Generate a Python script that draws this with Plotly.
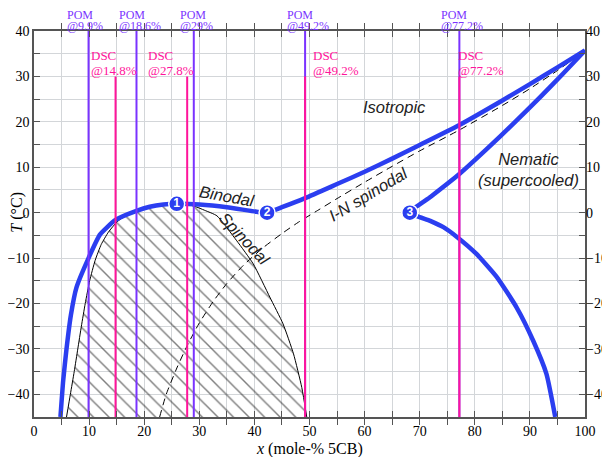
import plotly.graph_objects as go

# ---------------- data ----------------
binodal_x = [4.8, 5.3, 5.9, 6.7, 7.7, 9.9, 12.0, 14.8, 18.6, 21.0, 23.5, 25.9, 30.0, 35.0, 40.4, 42.3]
binodal_T = [-45, -37, -30, -22.5, -16.5, -10, -4.8, -1.6, 0.4, 1.3, 1.8, 1.95, 1.8, 1.2, 0.2, 0.0]

liq_x = [42.3, 45, 49.2, 55, 60, 65, 70, 77.2, 85, 90, 95, 100]
liq_T = [0, 1.2, 3.2, 6.3, 9.0, 11.9, 14.9, 19.3, 24.7, 28.3, 32.0, 35.7]

nem_up_x = [68.2, 72, 77.2, 82, 87, 92, 96, 100]
nem_up_T = [0, 3.5, 8.5, 13.8, 19.6, 25.6, 30.6, 35.7]

nem_lo_x = [68.2, 71.9, 74.3, 76.7, 80.3, 84.0, 87.6, 90.6, 93.0, 94.6]
nem_lo_T = [0, -1.8, -3.2, -5.3, -9.1, -14.2, -20.9, -28.2, -35.5, -45]

spin_x = [5.9, 6.6, 7.3, 7.95, 8.6, 9.3, 10.1, 11.1, 12.2, 13.5, 15.1, 17.4, 19.8, 22.5, 25.9,
          28.9, 31.0, 33.2, 36.8, 39.8, 42.8, 45.2, 47.1, 48.6, 49.5]
spin_T = [-45, -40, -35, -30, -25, -20, -15, -10.5, -7.0, -4.3, -2.0, -0.1, 1.1, 1.8, 2.0,
          1.5, 0.5, -0.7, -6.2, -11.3, -18.6, -24.5, -31.1, -38.5, -45]

ins_x = [22.8, 24, 26, 28, 30, 32.5, 35, 38, 41.5, 45, 48, 51.5, 55, 60, 65, 70, 77.2, 85, 90, 95, 100]
ins_T = [-45, -40, -34, -28.8, -24.3, -19.6, -15.6, -11.6, -7.8, -4.6, -2.1, 0.5, 3.1, 6.7,
         10.2, 13.6, 18.2, 23.6, 27.3, 31.3, 35.7]

pom_x = [9.9, 18.6, 29, 49.2, 77.2]
pom_pct = ["@9.9%", "@18.6%", "@29%", "@49.2%", "@77.2%"]
dsc_x = [14.8, 27.8, 49.2, 77.2]
dsc_pct = ["@14.8%", "@27.8%", "@49.2%", "@77.2%"]
dsc_top = 30
pom_top = 40

pt_x = [25.9, 42.3, 68.2]
pt_T = [1.95, 0.0, 0.0]
pt_labels = ["1", "2", "3"]

xtick_vals = list(range(0, 101, 5))
xtick_text = [str(v) if v % 10 == 0 else "" for v in xtick_vals]
ytick_vals = list(range(-45, 41, 5))
ytick_text = [str(v).replace("-", "\u2212") if v % 10 == 0 else "" for v in ytick_vals]

# label anchor positions (layout only)
pom_label_left = [5.9, 15.45, 26.5, 46.0, 73.8]
dsc_label_left = [10.3, 20.7, 50.6, 76.95]

# ---------------- styles ----------------
BLUE = "#2B3EF0"
POMC = "#7A33FF"
DSCC = "#FF149B"
SERIF = "Liberation Serif"
SANS = "Liberation Sans"
YMIN, YMAX = -45, 40

fig = go.Figure()

# hatched spinodal region
fig.add_trace(go.Scatter(
    x=spin_x, y=spin_T, mode="lines", fill="toself",
    fillcolor="rgba(0,0,0,0)",
    fillpattern=dict(shape="\\", fgcolor="black", bgcolor="rgba(0,0,0,0)", size=11, solidity=0.13),
    line=dict(color="black", width=1), line_shape="spline", line_smoothing=0.5, hoverinfo="skip"))

# I-N spinodal (dashed)
fig.add_trace(go.Scatter(x=ins_x, y=ins_T, mode="lines", line_shape="spline", line_smoothing=0.6,
                         line=dict(color="black", width=1, dash="7px,5px")))

# blue phase boundaries
fig.add_trace(go.Scatter(x=binodal_x + liq_x[1:], y=binodal_T + liq_T[1:], mode="lines",
                         line_shape="spline", line_smoothing=0.5, line=dict(color=BLUE, width=4.5)))
fig.add_trace(go.Scatter(x=nem_up_x[::-1] + nem_lo_x[1:], y=nem_up_T[::-1] + nem_lo_T[1:],
                         mode="lines", line_shape="spline", line_smoothing=0.5,
                         line=dict(color=BLUE, width=4.5)))

# vertical measurement lines
for xv in pom_x:
    fig.add_trace(go.Scatter(x=[xv, xv], y=[YMIN, pom_top], mode="lines",
                             line=dict(color=POMC, width=2)))
for xv in dsc_x:
    fig.add_trace(go.Scatter(x=[xv, xv], y=[YMIN, dsc_top], mode="lines",
                             line=dict(color=DSCC, width=2)))

# numbered points
fig.add_trace(go.Scatter(x=pt_x, y=pt_T, mode="markers+text", text=pt_labels,
                         textposition="middle center",
                         textfont=dict(color="white", size=12, family=SANS, weight="bold"),
                         marker=dict(size=16, color=BLUE, line=dict(color="white", width=1.5))))

# dummy trace for the right axis
fig.add_trace(go.Scatter(x=[None], y=[None], yaxis="y2", showlegend=False))

ann = []
lbl_pom = dict(family=SERIF, size=12, color=POMC)
lbl_dsc = dict(family=SERIF, size=13, color=DSCC)
for lx, pct in zip(pom_label_left, pom_pct):
    ann.append(dict(x=lx, y=1.0427, xref="x", yref="paper", text="POM", showarrow=False,
                    xanchor="left", yanchor="middle", xshift=-1, borderpad=0, font=lbl_pom))
    ann.append(dict(x=lx, y=1.013, xref="x", yref="paper", text=pct, showarrow=False,
                    xanchor="left", yanchor="middle", xshift=-1, borderpad=0, font=lbl_pom))
for lx, pct in zip(dsc_label_left, dsc_pct):
    ann.append(dict(x=lx, y=34.5, xref="x", yref="y", text="DSC", showarrow=False,
                    xanchor="left", yanchor="middle", xshift=-1, borderpad=0, font=lbl_dsc))
    ann.append(dict(x=lx, y=31.4, xref="x", yref="y", text=pct, showarrow=False,
                    xanchor="left", yanchor="middle", xshift=-1, borderpad=0, font=lbl_dsc))

lab_font = dict(family=SANS, size=16.5, color="#222")
ann += [
    dict(x=65.5, y=23.2, text="<i>Isotropic</i>", showarrow=False, font=lab_font),
    dict(x=89.7, y=9.5, text="<i>Nematic</i><br><i>(supercooled)</i>", showarrow=False,
         align="center", font=lab_font),
    dict(x=35.0, y=3.6, text="<i>Binodal</i>", showarrow=False, textangle=10, font=lab_font),
    dict(x=38.3, y=-5.8, text="<i>Spinodal</i>", showarrow=False, textangle=47, font=lab_font),
    dict(x=60.7, y=4.0, text="<i>I-N spinodal</i>", showarrow=False, textangle=-31, font=lab_font),
    dict(x=0.5, y=0, xref="paper", yref="paper", yanchor="top", yshift=-21,
         text="<i>x</i> (mole-% 5CB)", showarrow=False,
         font=dict(family=SERIF, size=16, color="black")),
    dict(x=0, y=0, xref="paper", yref="y", xanchor="center", xshift=-17, textangle=-90,
         text="<i>T</i> (°C)", showarrow=False, borderpad=0,
         font=dict(family=SERIF, size=16, color="black")),
]

axis_common = dict(showline=True, linecolor="#555", linewidth=1.5, mirror="allticks",
                   ticks="inside", ticklen=6, tickcolor="#555", tickwidth=1,
                   showgrid=True, gridcolor="#d3d6d9", gridwidth=1, zeroline=False,
                   automargin=False,
                   tickfont=dict(family=SERIF, size=14, color="black"))

# the page body adds an 8px margin; the figure is sized so the plot lands where the reference has it
fig.update_layout(
    width=602, height=449,
    margin=dict(l=26, r=25, t=23, b=40, autoexpand=False),
    plot_bgcolor="white", paper_bgcolor="white",
    showlegend=False,
    xaxis=dict(range=[0, 100], tickmode="array", tickvals=xtick_vals, ticktext=xtick_text,
               **axis_common),
    yaxis=dict(range=[YMIN, YMAX], tickmode="array", tickvals=ytick_vals, ticktext=ytick_text,
               **axis_common),
    yaxis2=dict(range=[YMIN, YMAX], overlaying="y", side="right", tickmode="array",
                tickvals=ytick_vals, ticktext=ytick_text, showgrid=False, zeroline=False,
                showline=False, ticks="", automargin=False,
                tickfont=dict(family=SERIF, size=14, color="black")),
    annotations=ann,
)

fig.write_html("out.html")
